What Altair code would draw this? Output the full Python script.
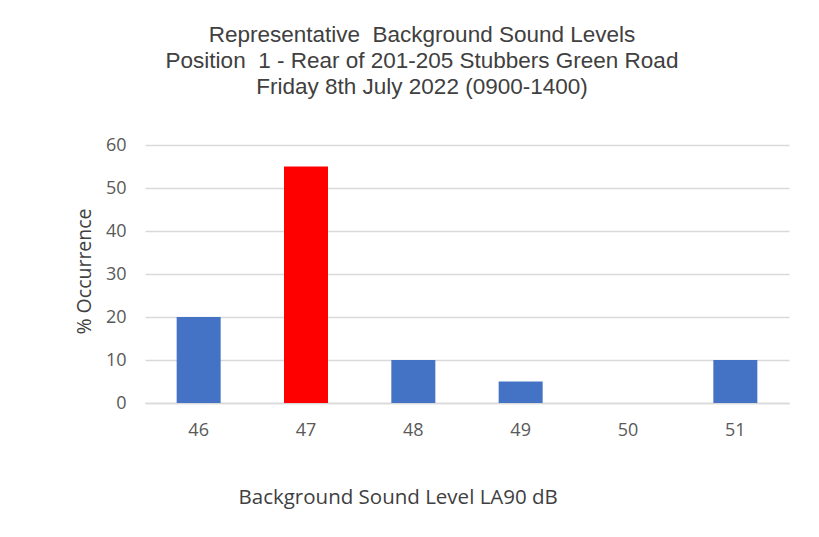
import altair as alt
import pandas as pd

levels = ["46", "47", "48", "49", "50", "51"]
occurrence = [20, 55, 10, 5, 0, 10]
colors = ["#4472C4", "#FF0000", "#4472C4", "#4472C4", "#4472C4", "#4472C4"]

df = pd.DataFrame({"level": levels, "occ": occurrence, "color": colors})

NB = "\u00a0"
title_lines = [
    f"Representative {NB}Background Sound Levels",
    f"Position {NB}1 - Rear of 201-205 Stubbers Green Road",
    "Friday 8th July 2022 (0900-1400)",
]

chart = (
    alt.Chart(df)
    .mark_bar()
    .encode(
        x=alt.X(
            "level:N",
            sort=levels,
            scale=alt.Scale(paddingInner=0.59, paddingOuter=0.295),
            axis=alt.Axis(
                title="Background Sound Level LA90 dB",
                labelAngle=0,
                ticks=False,
                labelPadding=18,
                domainColor="#d9d9d9",
                domainWidth=1.5,
                titleX=93,
                titleY=94,
                titleAlign="left",
                titleBaseline="middle",
                titleFontWeight="normal",
                titleFontSize=20.5,
            ),
        ),
        y=alt.Y(
            "occ:Q",
            scale=alt.Scale(domain=[0, 60]),
            axis=alt.Axis(
                title="% Occurrence",
                values=[0, 10, 20, 30, 40, 50, 60],
                ticks=False,
                domain=False,
                labelPadding=19,
                gridColor="#d9d9d9",
                gridWidth=1.5,
                titleX=-61,
                titleY=126,
                titleAngle=-90,
                titleBaseline="middle",
                titleFontWeight="normal",
                titleFontSize=19.5,
            ),
        ),
        color=alt.Color("color:N", scale=None),
    )
    .properties(
        width=644,
        height=258,
        autosize=alt.AutoSizeParams(type="none"),
        padding={"left": 137, "top": 137, "right": 22, "bottom": 115},
        title=alt.TitleParams(
            text=title_lines,
            font="Liberation Sans",
            fontSize=22.5,
            fontWeight="normal",
            color="#404040",
            anchor="middle",
            dx=-45,
            offset=38,
            lineHeight=26,
        ),
    )
    .configure_axis(
        labelFont="Open Sans",
        labelFontSize=18,
        labelColor="#595959",
        titleFont="Open Sans",
        titleColor="#404040",
    )
    .configure_view(stroke=None)
)

chart.save("out.html", embed_options={"renderer": "svg", "actions": False})
